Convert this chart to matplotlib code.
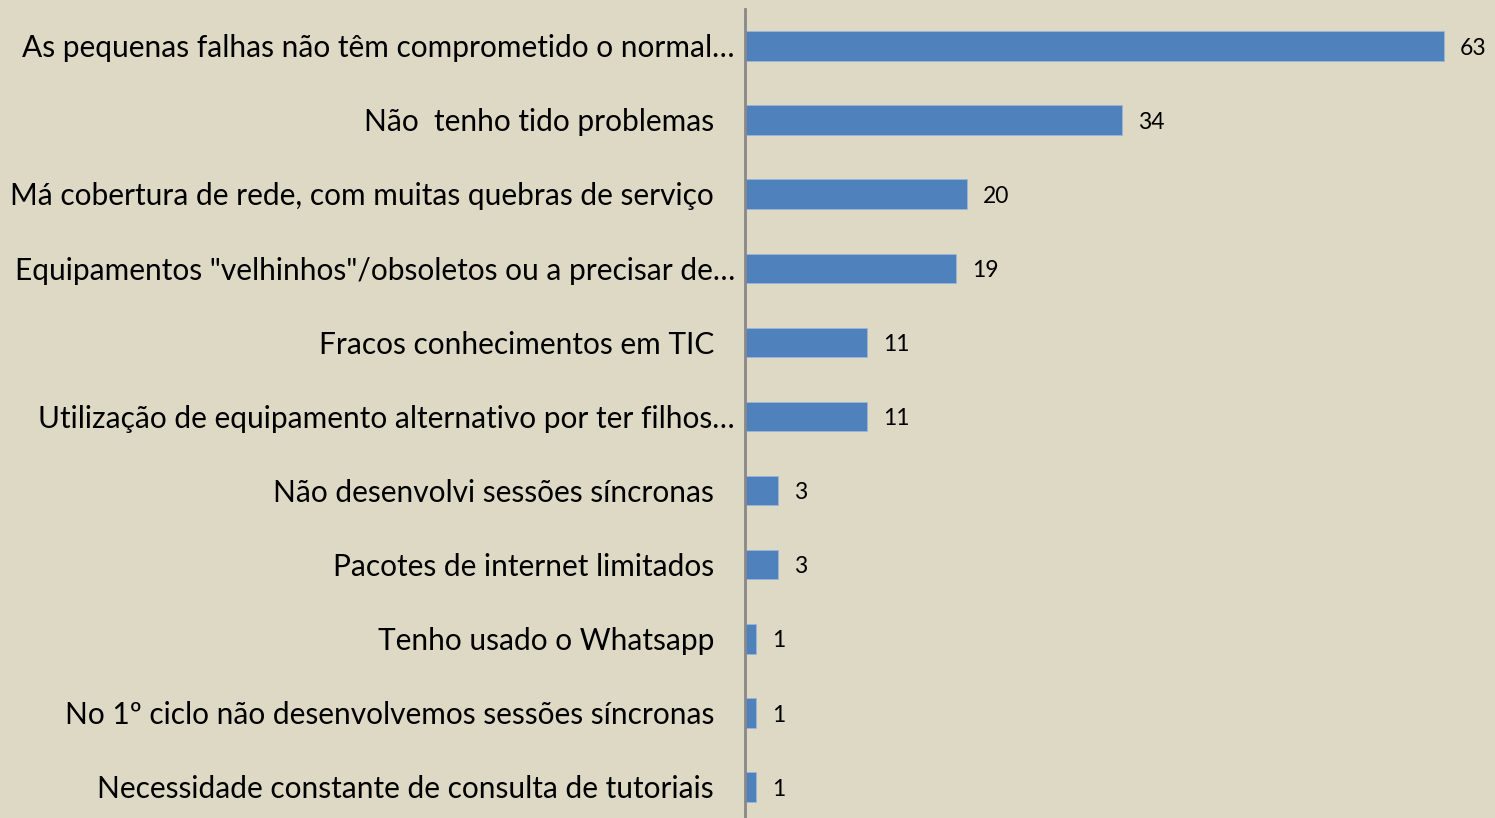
import matplotlib.pyplot as plt

categories = [
    "As pequenas falhas não têm comprometido o normal…",
    "Não  tenho tido problemas",
    "Má cobertura de rede, com muitas quebras de serviço",
    "Equipamentos \"velhinhos\"/obsoletos ou a precisar de…",
    "Fracos conhecimentos em TIC",
    "Utilização de equipamento alternativo por ter filhos…",
    "Não desenvolvi sessões síncronas",
    "Pacotes de internet limitados",
    "Tenho usado o Whatsapp",
    "No 1º ciclo não desenvolvemos sessões síncronas",
    "Necessidade constante de consulta de tutoriais",
]
values = [63, 34, 20, 19, 11, 11, 3, 3, 1, 1, 1]

bg = "#DDD9C4"
bar_color = "#4F81BD"

fig = plt.figure(figsize=(14.95, 8.18), dpi=100, facecolor=bg)
ax = fig.add_axes([745 / 1495, -6 / 818, 750 / 1495, 815 / 818])
ax.set_facecolor(bg)

pos = list(range(len(categories)))
ax.barh(pos, values, height=0.4, color=bar_color, edgecolor="#9DB5D8", linewidth=0.6, zorder=2)
ax.set_xlim(0, 67.6)
ax.set_ylim(len(categories) - 0.5, -0.5)

for y, v in zip(pos, values):
    ax.text(v + 1.45, y + 0.03, str(v), va="center", ha="left", fontsize=16.5, family="Lato", color="black")

for y, lab in zip(pos, categories):
    x_off = -10 / 750 if lab.endswith("…") else -31 / 750
    ax.text(x_off, y + 0.03, lab, transform=ax.get_yaxis_transform(), ha="right", va="center",
            fontsize=21.5, family="Lato", color="black")

for s in ["top", "right", "bottom"]:
    ax.spines[s].set_visible(False)
ax.spines["left"].set_color("#888888")
ax.spines["left"].set_linewidth(2)
ax.set_xticks([])
ax.set_yticks([])

fig.savefig("out.png", dpi=100, facecolor=bg)
